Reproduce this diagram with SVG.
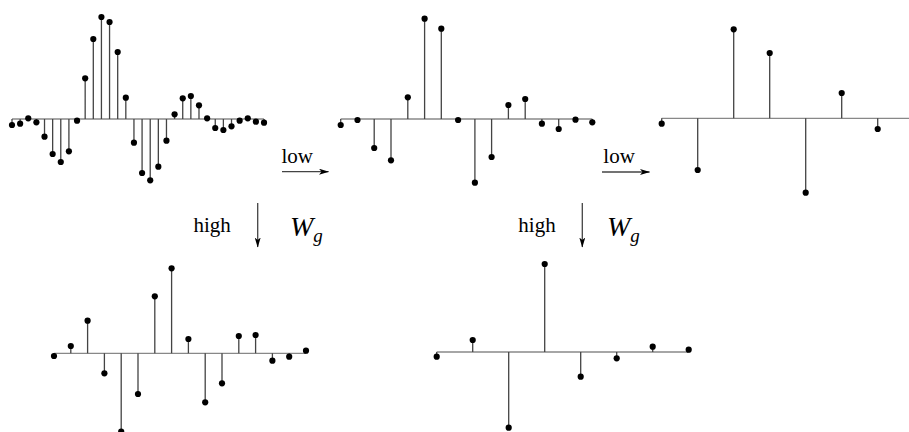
<svg xmlns="http://www.w3.org/2000/svg" width="909" height="432" viewBox="0 0 909 432">
<style>
.ax{stroke:#888;stroke-width:1.3;fill:none}
.st{stroke:#444;stroke-width:1.3;fill:none}
.dt circle{fill:#000;r:3.1px}
.lbl{font-family:"Liberation Serif",serif;font-size:21px;fill:#000}
.math{font-family:"Liberation Serif",serif;font-style:italic;fill:#000}
.arr{stroke:#444;stroke-width:1.3;fill:none;marker-end:url(#ah)}
</style>
<defs>
<marker id="ah" viewBox="0 0 10 6" refX="9.5" refY="3" markerWidth="10" markerHeight="6" markerUnits="userSpaceOnUse" orient="auto">
<path d="M0,0 L10,3 L0,6 L2.5,3 Z" fill="#000"/>
</marker>
</defs>
<rect width="909" height="432" fill="#fff"/>

<g id="signal-original">
<line class="ax" x1="12" y1="119" x2="264" y2="119"/>
<path class="st" d="M12,119V125M20.13,119V123.7M28.26,119V118.3M36.39,119V122.3M44.52,119V136.7M52.65,119V154M60.78,119V162M68.91,119V151.3M77.04,119V120.7M85.17,119V78.3M93.3,119V39M101.43,119V17M109.56,119V22M117.69,119V52M125.82,119V97.7M133.95,119V142.7M142.08,119V173M150.21,119V180.3M158.34,119V166.7M166.47,119V140.7M174.6,119V114.3M182.73,119V98.3M190.86,119V96M198.99,119V105.3M207.12,119V118.3M215.25,119V128M223.38,119V130M231.51,119V126.3M239.64,119V120.7M247.77,119V118.3M255.9,119V121.7M264.03,119V122.7"/>
<g class="dt">
<circle cx="12" cy="125" r="3.1"/><circle cx="20.13" cy="123.7" r="3.1"/><circle cx="28.26" cy="118.3" r="3.1"/><circle cx="36.39" cy="122.3" r="3.1"/><circle cx="44.52" cy="136.7" r="3.1"/><circle cx="52.65" cy="154" r="3.1"/><circle cx="60.78" cy="162" r="3.1"/><circle cx="68.91" cy="151.3" r="3.1"/><circle cx="77.04" cy="120.7" r="3.1"/><circle cx="85.17" cy="78.3" r="3.1"/><circle cx="93.3" cy="39" r="3.1"/><circle cx="101.43" cy="17" r="3.1"/><circle cx="109.56" cy="22" r="3.1"/><circle cx="117.69" cy="52" r="3.1"/><circle cx="125.82" cy="97.7" r="3.1"/><circle cx="133.95" cy="142.7" r="3.1"/><circle cx="142.08" cy="173" r="3.1"/><circle cx="150.21" cy="180.3" r="3.1"/><circle cx="158.34" cy="166.7" r="3.1"/><circle cx="166.47" cy="140.7" r="3.1"/><circle cx="174.6" cy="114.3" r="3.1"/><circle cx="182.73" cy="98.3" r="3.1"/><circle cx="190.86" cy="96" r="3.1"/><circle cx="198.99" cy="105.3" r="3.1"/><circle cx="207.12" cy="118.3" r="3.1"/><circle cx="215.25" cy="128" r="3.1"/><circle cx="223.38" cy="130" r="3.1"/><circle cx="231.51" cy="126.3" r="3.1"/><circle cx="239.64" cy="120.7" r="3.1"/><circle cx="247.77" cy="118.3" r="3.1"/><circle cx="255.9" cy="121.7" r="3.1"/><circle cx="264.03" cy="122.7" r="3.1"/>
</g>
</g>

<g id="signal-low1">
<line class="ax" x1="340.7" y1="119" x2="592.3" y2="119"/>
<path class="st" d="M340.7,119V125M357.5,119V120M374.2,119V148M391,119V160.3M407.8,119V97.3M424.6,119V18.7M441.3,119V28.7M458.1,119V120M474.9,119V182.7M491.6,119V157M508.4,119V105M525.2,119V99M541.9,119V123.7M558.7,119V129M575.5,119V119.7M592.3,119V122.3"/>
<g class="dt">
<circle cx="340.7" cy="125" r="3.1"/><circle cx="357.5" cy="120" r="3.1"/><circle cx="374.2" cy="148" r="3.1"/><circle cx="391" cy="160.3" r="3.1"/><circle cx="407.8" cy="97.3" r="3.1"/><circle cx="424.6" cy="18.7" r="3.1"/><circle cx="441.3" cy="28.7" r="3.1"/><circle cx="458.1" cy="120" r="3.1"/><circle cx="474.9" cy="182.7" r="3.1"/><circle cx="491.6" cy="157" r="3.1"/><circle cx="508.4" cy="105" r="3.1"/><circle cx="525.2" cy="99" r="3.1"/><circle cx="541.9" cy="123.7" r="3.1"/><circle cx="558.7" cy="129" r="3.1"/><circle cx="575.5" cy="119.7" r="3.1"/><circle cx="592.3" cy="122.3" r="3.1"/>
</g>
</g>

<g id="signal-low2">
<line class="ax" x1="661.7" y1="118.3" x2="909" y2="118.3"/>
<path class="st" d="M661.7,118.3V123.7M697.7,118.3V170M733.7,118.3V29.3M769.7,118.3V53M805.7,118.3V192.7M841.7,118.3V93M877.7,118.3V129"/>
<g class="dt">
<circle cx="661.7" cy="123.7" r="3.1"/><circle cx="697.7" cy="170" r="3.1"/><circle cx="733.7" cy="29.3" r="3.1"/><circle cx="769.7" cy="53" r="3.1"/><circle cx="805.7" cy="192.7" r="3.1"/><circle cx="841.7" cy="93" r="3.1"/><circle cx="877.7" cy="129" r="3.1"/>
</g>
</g>

<g id="signal-high1">
<line class="ax" x1="54" y1="353.3" x2="306" y2="353.3"/>
<path class="st" d="M54,353.3V356M70.8,353.3V346M87.6,353.3V320.7M104.4,353.3V373.3M121.2,353.3V431.7M138,353.3V394M154.8,353.3V296.3M171.6,353.3V268.3M188.4,353.3V339M205.2,353.3V402.3M222,353.3V383.3M238.8,353.3V336M255.6,353.3V335M272.4,353.3V360.7M289.2,353.3V356.7M306,353.3V350.7"/>
<g class="dt">
<circle cx="54" cy="356" r="3.1"/><circle cx="70.8" cy="346" r="3.1"/><circle cx="87.6" cy="320.7" r="3.1"/><circle cx="104.4" cy="373.3" r="3.1"/><circle cx="121.2" cy="431.7" r="3.1"/><circle cx="138" cy="394" r="3.1"/><circle cx="154.8" cy="296.3" r="3.1"/><circle cx="171.6" cy="268.3" r="3.1"/><circle cx="188.4" cy="339" r="3.1"/><circle cx="205.2" cy="402.3" r="3.1"/><circle cx="222" cy="383.3" r="3.1"/><circle cx="238.8" cy="336" r="3.1"/><circle cx="255.6" cy="335" r="3.1"/><circle cx="272.4" cy="360.7" r="3.1"/><circle cx="289.2" cy="356.7" r="3.1"/><circle cx="306" cy="350.7" r="3.1"/>
</g>
</g>

<g id="signal-high2">
<line class="ax" x1="436.7" y1="352" x2="688.7" y2="352"/>
<path class="st" d="M436.7,352V356.7M472.7,352V340M508.7,352V427.7M544.7,352V264M580.7,352V376.7M616.7,352V358.3M652.7,352V346.7M688.7,352V349.7"/>
<g class="dt">
<circle cx="436.7" cy="356.7" r="3.1"/><circle cx="472.7" cy="340" r="3.1"/><circle cx="508.7" cy="427.7" r="3.1"/><circle cx="544.7" cy="264" r="3.1"/><circle cx="580.7" cy="376.7" r="3.1"/><circle cx="616.7" cy="358.3" r="3.1"/><circle cx="652.7" cy="346.7" r="3.1"/><circle cx="688.7" cy="349.7" r="3.1"/>
</g>
</g>

<g id="connectors">
<line class="arr" x1="282" y1="171.7" x2="328.5" y2="171.7"/>
<line class="arr" x1="257.7" y1="203" x2="257.7" y2="247"/>
<line class="arr" x1="602" y1="172" x2="649.5" y2="172"/>
<line class="arr" x1="582.3" y1="203" x2="582.3" y2="247"/>
</g>

<g id="labels">
<text class="lbl" x="281.5" y="163.3">low</text>
<text class="lbl" x="193.5" y="232.3">high</text>
<text class="math" x="290" y="236" font-size="28">W<tspan font-size="19" dy="6">g</tspan></text>
<text class="lbl" x="603.3" y="163.3">low</text>
<text class="lbl" x="518.3" y="232.3">high</text>
<text class="math" x="607" y="236" font-size="28">W<tspan font-size="19" dy="6">g</tspan></text>
</g>
</svg>
